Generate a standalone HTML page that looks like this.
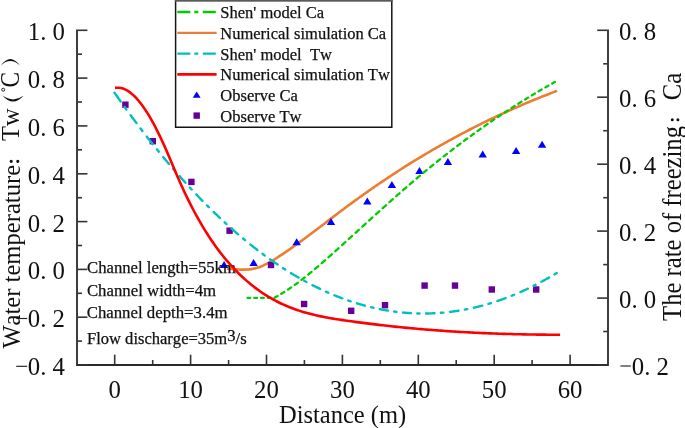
<!DOCTYPE html>
<html><head><meta charset="utf-8"><style>
html,body{margin:0;padding:0;background:#fff;}
svg{display:block;will-change:transform;}
text{font-family:"Liberation Serif",serif;fill:#111;font-kerning:none;}
.tk{font-size:24.8px;}
.lg{font-size:16.5px;stroke:#111;stroke-width:0.25px;}
.an{font-size:16.7px;stroke:#111;stroke-width:0.25px;}
.tt{font-size:24.5px;}
</style></head><body>
<svg width="685" height="428" viewBox="0 0 685 428">
<rect width="685" height="428" fill="#fff"/>
<path d="M227.00,268.61 L229.00,268.77 L231.00,268.94 L233.00,269.11 L235.00,269.27 L237.00,269.41 L239.00,269.52 L241.00,269.59 L243.00,269.62 L245.00,269.59 L247.00,269.51 L249.00,269.35 L251.00,269.11 L253.00,268.79 L255.00,268.37 L257.00,267.84 L259.00,267.21 L261.00,266.46 L263.00,265.63 L265.00,264.70 L267.00,263.69 L269.00,262.61 L271.00,261.47 L273.00,260.28 L275.00,259.04 L277.00,257.76 L279.00,256.46 L281.00,255.14 L283.00,253.81 L285.00,252.45 L287.00,251.09 L289.00,249.70 L291.00,248.31 L293.00,246.90 L295.00,245.48 L297.00,244.05 L299.00,242.60 L301.00,241.15 L303.00,239.69 L305.00,238.21 L307.00,236.73 L309.00,235.25 L311.00,233.75 L313.00,232.25 L315.00,230.75 L317.00,229.24 L319.00,227.73 L321.00,226.21 L323.00,224.69 L325.00,223.17 L327.00,221.65 L329.00,220.13 L331.00,218.61 L333.00,217.09 L335.00,215.58 L337.00,214.06 L339.00,212.55 L341.00,211.04 L343.00,209.54 L345.00,208.05 L347.00,206.55 L349.00,205.07 L351.00,203.60 L353.00,202.13 L355.00,200.67 L357.00,199.22 L359.00,197.77 L361.00,196.34 L363.00,194.91 L365.00,193.49 L367.00,192.07 L369.00,190.67 L371.00,189.27 L373.00,187.88 L375.00,186.50 L377.00,185.13 L379.00,183.76 L381.00,182.40 L383.00,181.05 L385.00,179.71 L387.00,178.38 L389.00,177.05 L391.00,175.73 L393.00,174.42 L395.00,173.11 L397.00,171.81 L399.00,170.53 L401.00,169.24 L403.00,167.97 L405.00,166.70 L407.00,165.44 L409.00,164.19 L411.00,162.95 L413.00,161.71 L415.00,160.48 L417.00,159.26 L419.00,158.04 L421.00,156.83 L423.00,155.63 L425.00,154.44 L427.00,153.25 L429.00,152.08 L431.00,150.90 L433.00,149.74 L435.00,148.58 L437.00,147.43 L439.00,146.29 L441.00,145.15 L443.00,144.03 L445.00,142.91 L447.00,141.79 L449.00,140.68 L451.00,139.58 L453.00,138.49 L455.00,137.41 L457.00,136.33 L459.00,135.25 L461.00,134.19 L463.00,133.13 L465.00,132.08 L467.00,131.04 L469.00,130.00 L471.00,128.97 L473.00,127.94 L475.00,126.93 L477.00,125.92 L479.00,124.91 L481.00,123.92 L483.00,122.93 L485.00,121.95 L487.00,120.97 L489.00,120.00 L491.00,119.04 L493.00,118.08 L495.00,117.13 L497.00,116.19 L499.00,115.25 L501.00,114.32 L503.00,113.40 L505.00,112.48 L507.00,111.57 L509.00,110.67 L511.00,109.77 L513.00,108.88 L515.00,107.99 L517.00,107.12 L519.00,106.25 L521.00,105.38 L523.00,104.52 L525.00,103.67 L527.00,102.82 L529.00,101.98 L531.00,101.15 L533.00,100.32 L535.00,99.50 L537.00,98.69 L539.00,97.88 L541.00,97.08 L543.00,96.28 L545.00,95.49 L547.00,94.71 L549.00,93.93 L551.00,93.16 L553.00,92.39 L555.00,91.63 L557.00,90.88 L557.10,90.84" stroke="#ed7d31" stroke-width="2.6" fill="none"/>
<rect x="122.2" y="101.5" width="6.4" height="6.4" fill="#660099"/>
<rect x="149.6" y="138.0" width="6.4" height="6.4" fill="#660099"/>
<rect x="188.2" y="178.7" width="6.4" height="6.4" fill="#660099"/>
<rect x="226.4" y="227.5" width="6.4" height="6.4" fill="#660099"/>
<rect x="267.8" y="261.8" width="6.4" height="6.4" fill="#660099"/>
<rect x="300.9" y="300.8" width="6.4" height="6.4" fill="#660099"/>
<rect x="348.0" y="307.6" width="6.4" height="6.4" fill="#660099"/>
<rect x="381.8" y="302.0" width="6.4" height="6.4" fill="#660099"/>
<rect x="421.4" y="282.4" width="6.4" height="6.4" fill="#660099"/>
<rect x="451.8" y="282.4" width="6.4" height="6.4" fill="#660099"/>
<rect x="488.6" y="286.3" width="6.4" height="6.4" fill="#660099"/>
<rect x="533.0" y="286.3" width="6.4" height="6.4" fill="#660099"/>
<path d="M224.1,261.0 L228.3,268.0 L219.9,268.0 Z" fill="#0000ff"/>
<path d="M253.6,258.9 L257.8,265.9 L249.4,265.9 Z" fill="#0000ff"/>
<path d="M296.7,238.2 L300.9,245.2 L292.5,245.2 Z" fill="#0000ff"/>
<path d="M331.0,217.9 L335.2,224.9 L326.8,224.9 Z" fill="#0000ff"/>
<path d="M367.3,197.5 L371.5,204.5 L363.1,204.5 Z" fill="#0000ff"/>
<path d="M391.9,181.1 L396.1,188.1 L387.7,188.1 Z" fill="#0000ff"/>
<path d="M419.5,167.1 L423.7,174.1 L415.3,174.1 Z" fill="#0000ff"/>
<path d="M447.9,158.1 L452.1,165.1 L443.7,165.1 Z" fill="#0000ff"/>
<path d="M482.7,150.5 L486.9,157.5 L478.5,157.5 Z" fill="#0000ff"/>
<path d="M516.1,146.9 L520.3,153.9 L511.9,153.9 Z" fill="#0000ff"/>
<path d="M542.1,140.8 L546.3,147.8 L537.9,147.8 Z" fill="#0000ff"/>
<path d="M247.55,297.90 L247.70,297.90 L248.20,297.90 L248.70,297.90 L249.20,297.90 L249.70,297.90 L250.20,297.90 L250.25,297.90 M254.32,297.90 L254.70,297.90 L255.20,297.90 L255.70,297.90 L256.20,297.90 L256.70,297.90 L257.02,297.90 M261.10,297.90 L261.20,297.90 L261.70,297.90 L262.20,297.90 L262.70,297.90 L263.20,297.90 L263.70,297.90 L263.80,297.90 M267.87,297.90 L268.20,297.90 L268.70,297.90 L269.20,297.90 L269.70,297.90 L270.20,297.90 L270.57,297.90 M274.50,297.68 L274.90,297.47 L275.40,297.20 L275.90,296.92 L276.40,296.65 L276.90,296.37 L277.40,296.09 L277.48,296.04 M281.24,293.85 L281.40,293.76 L281.90,293.45 L282.40,293.15 L282.90,292.84 L283.40,292.53 L283.90,292.22 L284.29,291.98 M287.99,289.58 L288.40,289.30 L288.90,288.97 L289.40,288.63 L289.90,288.29 L290.40,287.95 L290.90,287.61 L291.09,287.48 M294.74,284.90 L294.90,284.79 L295.40,284.42 L295.90,284.06 L296.40,283.70 L296.90,283.33 L297.40,282.96 L297.88,282.60 M301.49,279.88 L301.90,279.56 L302.40,279.18 L302.90,278.79 L303.40,278.40 L303.90,278.01 L304.40,277.61 L304.68,277.40 M308.25,274.55 L308.40,274.42 L308.90,274.02 L309.40,273.61 L309.90,273.20 L310.40,272.79 L310.90,272.38 L311.40,271.97 L311.47,271.92 M315.01,268.96 L315.40,268.63 L315.90,268.21 L316.40,267.79 L316.90,267.36 L317.40,266.93 L317.90,266.51 L318.25,266.21 M321.77,263.17 L321.90,263.06 L322.40,262.63 L322.90,262.19 L323.40,261.75 L323.90,261.32 L324.40,260.88 L324.90,260.44 L325.04,260.32 M328.53,257.23 L328.90,256.91 L329.40,256.46 L329.90,256.02 L330.40,255.57 L330.90,255.13 L331.40,254.68 L331.82,254.31 M335.30,251.18 L335.40,251.09 L335.90,250.64 L336.40,250.19 L336.90,249.74 L337.40,249.29 L337.90,248.84 L338.40,248.39 L338.59,248.22 M342.07,245.07 L342.40,244.78 L342.90,244.33 L343.40,243.87 L343.90,243.42 L344.40,242.97 L344.90,242.51 L345.37,242.09 M348.85,238.93 L348.90,238.88 L349.40,238.43 L349.90,237.98 L350.40,237.52 L350.90,237.07 L351.40,236.61 L351.90,236.16 L352.14,235.94 M355.62,232.77 L355.90,232.52 L356.40,232.06 L356.90,231.61 L357.40,231.15 L357.90,230.70 L358.40,230.24 L358.90,229.79 L358.92,229.77 M362.39,226.61 L362.40,226.60 L362.90,226.15 L363.40,225.69 L363.90,225.24 L364.40,224.78 L364.90,224.33 L365.40,223.87 L365.69,223.61 M369.17,220.45 L369.40,220.24 L369.90,219.78 L370.40,219.33 L370.90,218.87 L371.40,218.42 L371.90,217.97 L372.40,217.51 L372.46,217.46 M375.94,214.31 L376.40,213.89 L376.90,213.44 L377.40,212.99 L377.90,212.53 L378.40,212.08 L378.90,211.63 L379.23,211.33 M382.72,208.19 L382.90,208.03 L383.40,207.58 L383.90,207.13 L384.40,206.68 L384.90,206.23 L385.40,205.78 L385.90,205.33 L386.00,205.24 M389.49,202.12 L389.90,201.76 L390.40,201.31 L390.90,200.87 L391.40,200.42 L391.90,199.98 L392.40,199.53 L392.77,199.20 M396.27,196.11 L396.40,195.99 L396.90,195.55 L397.40,195.11 L397.90,194.67 L398.40,194.23 L398.90,193.79 L399.40,193.35 L399.54,193.22 M403.05,190.16 L403.40,189.85 L403.90,189.41 L404.40,188.98 L404.90,188.54 L405.40,188.11 L405.90,187.67 L406.31,187.32 M409.83,184.28 L409.90,184.22 L410.40,183.79 L410.90,183.36 L411.40,182.93 L411.90,182.51 L412.40,182.08 L412.90,181.65 L413.08,181.50 M416.60,178.50 L416.90,178.25 L417.40,177.83 L417.90,177.41 L418.40,176.99 L418.90,176.57 L419.40,176.15 L419.85,175.78 M423.38,172.82 L423.40,172.81 L423.90,172.40 L424.40,171.98 L424.90,171.57 L425.40,171.16 L425.90,170.74 L426.40,170.33 L426.61,170.16 M430.16,167.25 L430.40,167.05 L430.90,166.65 L431.40,166.24 L431.90,165.84 L432.40,165.43 L432.90,165.03 L433.38,164.64 M436.94,161.77 L437.40,161.41 L437.90,161.01 L438.40,160.61 L438.90,160.21 L439.40,159.81 L439.90,159.41 L440.14,159.22 M443.72,156.40 L443.90,156.26 L444.40,155.86 L444.90,155.47 L445.40,155.08 L445.90,154.69 L446.40,154.30 L446.90,153.91 L446.91,153.90 M450.50,151.12 L450.90,150.81 L451.40,150.43 L451.90,150.05 L452.40,149.66 L452.90,149.28 L453.40,148.90 L453.68,148.68 M457.28,145.94 L457.40,145.85 L457.90,145.48 L458.40,145.10 L458.90,144.72 L459.40,144.35 L459.90,143.97 L460.40,143.60 L460.44,143.56 M464.06,140.87 L464.40,140.62 L464.90,140.24 L465.40,139.88 L465.90,139.51 L466.40,139.14 L466.90,138.77 L467.21,138.54 M470.84,135.89 L470.90,135.84 L471.40,135.48 L471.90,135.12 L472.40,134.75 L472.90,134.39 L473.40,134.03 L473.90,133.67 L473.98,133.62 M477.62,131.00 L477.90,130.80 L478.40,130.45 L478.90,130.09 L479.40,129.74 L479.90,129.38 L480.40,129.03 L480.74,128.79 M484.40,126.22 L484.40,126.22 L484.90,125.87 L485.40,125.52 L485.90,125.17 L486.40,124.82 L486.90,124.48 L487.40,124.13 L487.51,124.05 M491.18,121.53 L491.40,121.38 L491.90,121.03 L492.40,120.69 L492.90,120.35 L493.40,120.01 L493.90,119.67 L494.28,119.41 M497.96,116.93 L498.40,116.64 L498.90,116.30 L499.40,115.97 L499.90,115.63 L500.40,115.30 L500.90,114.97 L501.04,114.87 M504.74,112.43 L504.90,112.32 L505.40,112.00 L505.90,111.67 L506.40,111.34 L506.90,111.01 L507.40,110.69 L507.81,110.42 M511.52,108.02 L511.90,107.78 L512.40,107.46 L512.90,107.13 L513.40,106.81 L513.90,106.50 L514.40,106.18 L514.58,106.06 M518.29,103.71 L518.40,103.64 L518.90,103.33 L519.40,103.01 L519.90,102.70 L520.40,102.39 L520.90,102.08 L521.35,101.80 M525.07,99.49 L525.40,99.29 L525.90,98.98 L526.40,98.67 L526.90,98.36 L527.40,98.06 L527.90,97.75 L528.11,97.62 M531.85,95.36 L531.90,95.33 L532.40,95.03 L532.90,94.73 L533.40,94.43 L533.90,94.13 L534.40,93.83 L534.88,93.54 M538.63,91.32 L538.90,91.16 L539.40,90.86 L539.90,90.57 L540.40,90.28 L540.90,89.98 L541.40,89.69 L541.65,89.55 M545.41,87.37 L545.90,87.08 L546.40,86.80 L546.90,86.51 L547.40,86.22 L547.90,85.94 L548.40,85.65 L548.41,85.65 M552.19,83.51 L552.40,83.39 L552.90,83.11 L553.40,82.83 L553.90,82.55 L554.40,82.27 L554.90,81.99" stroke="#00cc00" stroke-width="2.3" fill="none" stroke-linecap="round"/>
<path d="M114.50,92.70 L115.00,93.42 L115.50,94.13 L116.00,94.85 L116.50,95.56 L117.00,96.28 L117.50,96.99 L118.00,97.70 L118.50,98.41 L119.00,99.11 L119.50,99.82 L120.00,100.53 L120.50,101.23 L120.63,101.41 M124.60,106.96 L125.00,107.52 L125.50,108.21 L126.00,108.90 L126.40,109.45 M130.62,115.24 L131.00,115.75 L131.50,116.43 L132.00,117.11 L132.50,117.78 L133.00,118.46 L133.50,119.13 L134.00,119.80 L134.50,120.48 L135.00,121.15 L135.50,121.81 L136.00,122.48 L136.46,123.10 M140.56,128.52 L141.00,129.10 L141.50,129.75 L142.00,130.40 L142.41,130.94 M146.78,136.59 L147.00,136.88 L147.50,137.52 L148.00,138.16 L148.50,138.80 L149.00,139.43 L149.50,140.07 L150.00,140.71 L150.50,141.34 L151.00,141.97 L151.50,142.60 L152.00,143.23 L152.50,143.86 L152.70,144.11 M156.90,149.35 L157.00,149.47 L157.50,150.09 L158.00,150.71 L158.50,151.32 L158.76,151.63 M163.23,157.09 L163.50,157.41 L164.00,158.01 L164.50,158.61 L165.00,159.21 L165.50,159.81 L166.00,160.41 L166.50,161.00 L167.00,161.60 L167.50,162.19 L168.00,162.78 L168.50,163.38 L169.00,163.97 L169.03,164.00 M173.27,168.96 L173.50,169.23 L174.00,169.81 L174.50,170.38 L175.00,170.96 L175.03,171.00 M179.54,176.14 L180.00,176.66 L180.50,177.22 L181.00,177.78 L181.50,178.34 L182.00,178.90 L182.50,179.46 L183.00,180.02 L183.50,180.58 L184.00,181.13 L184.50,181.69 L185.00,182.24 L185.50,182.79 L185.50,182.79 M189.88,187.58 L190.00,187.71 L190.50,188.25 L191.00,188.78 L191.50,189.32 L191.68,189.52 M196.34,194.47 L196.50,194.63 L197.00,195.16 L197.50,195.68 L198.00,196.21 L198.50,196.73 L199.00,197.25 L199.50,197.77 L200.00,198.28 L200.50,198.80 L201.00,199.32 L201.50,199.83 L202.00,200.34 L202.47,200.82 M206.99,205.40 L207.00,205.41 L207.50,205.91 L208.00,206.41 L208.50,206.91 L208.83,207.24 M213.65,211.97 L214.00,212.31 L214.50,212.79 L215.00,213.28 L215.50,213.76 L216.00,214.24 L216.50,214.72 L217.00,215.20 L217.50,215.67 L218.00,216.15 L218.50,216.62 L219.00,217.10 L219.50,217.57 L219.95,217.99 M224.63,222.35 L225.00,222.69 L225.50,223.15 L226.00,223.60 L226.50,224.06 L226.51,224.07 M231.50,228.55 L231.50,228.55 L232.00,229.00 L232.50,229.44 L233.00,229.88 L233.50,230.32 L234.00,230.76 L234.50,231.20 L235.00,231.63 L235.50,232.07 L236.00,232.50 L236.50,232.93 L237.00,233.36 L237.50,233.80 L238.00,234.22 L238.14,234.34 M243.05,238.49 L243.50,238.87 L244.00,239.28 L244.50,239.70 L245.00,240.11 L245.04,240.14 M250.28,244.40 L250.50,244.58 L251.00,244.97 L251.50,245.37 L252.00,245.77 L252.50,246.16 L253.00,246.56 L253.50,246.95 L254.00,247.34 L254.50,247.73 L255.00,248.12 L255.50,248.51 L256.00,248.90 L256.50,249.29 L257.00,249.67 L257.33,249.92 M262.51,253.83 L263.00,254.20 L263.50,254.57 L264.00,254.94 L264.50,255.30 L264.64,255.41 M270.16,259.39 L270.50,259.62 L271.00,259.98 L271.50,260.33 L272.00,260.68 L272.50,261.03 L273.00,261.37 L273.50,261.72 L274.00,262.07 L274.50,262.41 L275.00,262.75 L275.50,263.10 L276.00,263.44 L276.50,263.78 L277.00,264.11 L277.50,264.45 L277.55,264.49 M282.97,268.07 L283.00,268.09 L283.50,268.41 L284.00,268.73 L284.50,269.05 L285.00,269.37 L285.21,269.50 M290.98,273.11 L291.00,273.12 L291.50,273.43 L292.00,273.73 L292.50,274.03 L293.00,274.33 L293.50,274.63 L294.00,274.93 L294.50,275.23 L295.00,275.53 L295.50,275.82 L296.00,276.12 L296.50,276.41 L297.00,276.70 L297.50,276.99 L298.00,277.28 L298.50,277.57 L298.56,277.61 M304.17,280.76 L304.50,280.94 L305.00,281.22 L305.50,281.49 L306.00,281.76 L306.44,282.00 M312.41,285.14 L312.50,285.18 L313.00,285.44 L313.50,285.69 L314.00,285.94 L314.50,286.20 L315.00,286.45 L315.50,286.69 L316.00,286.94 L316.50,287.19 L317.00,287.44 L317.50,287.68 L318.00,287.92 L318.50,288.17 L319.00,288.41 L319.50,288.65 L320.00,288.89 L320.17,288.97 M325.96,291.64 L326.00,291.66 L326.50,291.89 L327.00,292.11 L327.50,292.33 L328.00,292.55 L328.26,292.66 M334.41,295.27 L334.50,295.31 L335.00,295.51 L335.50,295.72 L336.00,295.92 L336.50,296.12 L337.00,296.32 L337.50,296.52 L338.00,296.71 L338.50,296.91 L339.00,297.11 L339.50,297.30 L340.00,297.49 L340.50,297.68 L341.00,297.87 L341.50,298.06 L342.00,298.25 L342.33,298.37 M348.28,300.51 L348.50,300.59 L349.00,300.76 L349.50,300.93 L350.00,301.10 L350.50,301.27 L350.60,301.30 M356.91,303.33 L357.00,303.35 L357.50,303.51 L358.00,303.66 L358.50,303.81 L359.00,303.96 L359.50,304.10 L360.00,304.25 L360.50,304.40 L361.00,304.54 L361.50,304.68 L362.00,304.83 L362.50,304.97 L363.00,305.11 L363.50,305.24 L364.00,305.38 L364.50,305.52 L364.96,305.64 M371.04,307.19 L371.50,307.30 L372.00,307.42 L372.50,307.54 L373.00,307.66 L373.38,307.74 M379.81,309.13 L380.00,309.17 L380.50,309.27 L381.00,309.36 L381.50,309.46 L382.00,309.56 L382.50,309.65 L383.00,309.74 L383.50,309.84 L384.00,309.93 L384.50,310.02 L385.00,310.11 L385.50,310.20 L386.00,310.28 L386.50,310.37 L387.00,310.45 L387.50,310.54 L387.95,310.61 M394.13,311.53 L394.50,311.58 L395.00,311.65 L395.50,311.71 L396.00,311.77 L396.48,311.83 M402.99,312.54 L403.00,312.54 L403.50,312.59 L404.00,312.64 L404.50,312.68 L405.00,312.72 L405.50,312.77 L406.00,312.81 L406.50,312.85 L407.00,312.88 L407.50,312.92 L408.00,312.96 L408.50,312.99 L409.00,313.03 L409.50,313.06 L410.00,313.09 L410.50,313.12 L411.00,313.15 L411.05,313.15 M417.23,313.42 L417.50,313.43 L418.00,313.44 L418.50,313.45 L419.00,313.46 L419.50,313.47 L419.51,313.47 M426.00,313.49 L426.00,313.49 L426.50,313.49 L427.00,313.48 L427.50,313.47 L428.00,313.46 L428.50,313.45 L429.00,313.44 L429.50,313.43 L430.00,313.41 L430.50,313.40 L431.00,313.38 L431.50,313.36 L432.00,313.34 L432.50,313.32 L433.00,313.30 L433.50,313.28 L434.00,313.26 L434.50,313.23 L434.54,313.23 M440.89,312.82 L441.00,312.81 L441.50,312.77 L442.00,312.73 L442.50,312.68 L443.00,312.64 L443.38,312.60 M450.02,311.90 L450.50,311.84 L451.00,311.78 L451.50,311.71 L452.00,311.65 L452.50,311.58 L453.00,311.52 L453.50,311.45 L454.00,311.38 L454.50,311.31 L455.00,311.24 L455.50,311.17 L456.00,311.09 L456.50,311.02 L457.00,310.94 L457.50,310.86 L458.00,310.79 L458.50,310.71 L458.53,310.70 M464.82,309.60 L465.00,309.57 L465.50,309.47 L466.00,309.38 L466.50,309.28 L467.00,309.18 L467.30,309.12 M473.86,307.71 L474.00,307.68 L474.50,307.56 L475.00,307.44 L475.50,307.32 L476.00,307.21 L476.50,307.08 L477.00,306.96 L477.50,306.84 L478.00,306.72 L478.50,306.59 L479.00,306.46 L479.50,306.34 L480.00,306.21 L480.50,306.08 L481.00,305.95 L481.50,305.82 L482.00,305.68 L482.28,305.61 M488.46,303.86 L488.50,303.85 L489.00,303.70 L489.50,303.55 L490.00,303.40 L490.50,303.25 L490.93,303.11 M497.36,301.04 L497.50,300.99 L498.00,300.82 L498.50,300.65 L499.00,300.48 L499.50,300.31 L500.00,300.13 L500.50,299.96 L501.00,299.78 L501.50,299.60 L502.00,299.43 L502.50,299.25 L503.00,299.07 L503.50,298.88 L504.00,298.70 L504.50,298.52 L505.00,298.33 L505.50,298.14 L505.65,298.09 M511.68,295.74 L512.00,295.61 L512.50,295.41 L513.00,295.21 L513.50,295.00 L514.00,294.80 L514.13,294.74 M520.39,292.07 L520.50,292.02 L521.00,291.80 L521.50,291.57 L522.00,291.35 L522.50,291.12 L523.00,290.90 L523.50,290.67 L524.00,290.44 L524.50,290.21 L525.00,289.98 L525.50,289.75 L526.00,289.52 L526.50,289.28 L527.00,289.05 L527.50,288.81 L527.85,288.64 M533.47,285.90 L533.50,285.88 L534.00,285.63 L534.50,285.38 L535.00,285.12 L535.50,284.87 L535.59,284.82 M541.41,281.77 L541.50,281.72 L542.00,281.46 L542.50,281.18 L543.00,280.91 L543.50,280.64 L544.00,280.37 L544.50,280.09 L545.00,279.81 L545.50,279.54 L546.00,279.26 L546.50,278.98 L547.00,278.70 L547.50,278.42 L548.00,278.13 L548.50,277.85 L548.93,277.60 M554.46,274.38 L554.50,274.35 L555.00,274.05 L555.50,273.75 L556.00,273.45 L556.50,273.15 L556.70,273.03" stroke="#00bfbf" stroke-width="2.4" fill="none" stroke-linecap="round"/>
<text x="87" y="272.8" class="an">Channel length=55km</text>
<text x="86.9" y="296.1" class="an" style="font-size:16.8px">Channel width=4m</text>
<text x="86.7" y="318.0" class="an" style="font-size:16.8px">Channel depth=3.4m</text>
<text x="87.0" y="344.1" class="an"><tspan style="font-size:16.55px">Flow discharge=35m</tspan><tspan dy="-3.5">3</tspan><tspan dy="3.5">/s</tspan></text>
<path d="M115.00,87.89 L117.00,87.69 L119.00,87.74 L121.00,88.05 L123.00,88.60 L125.00,89.40 L127.00,90.43 L129.00,91.69 L131.00,93.17 L133.00,94.88 L135.00,96.79 L137.00,98.92 L139.00,101.24 L141.00,103.76 L143.00,106.47 L145.00,109.36 L147.00,112.44 L149.00,115.68 L151.00,119.09 L153.00,122.67 L155.00,126.40 L157.00,130.29 L159.00,134.33 L161.00,138.52 L163.00,142.84 L165.00,147.30 L167.00,151.88 L169.00,156.54 L171.00,161.26 L173.00,166.00 L175.00,170.73 L177.00,175.41 L179.00,180.02 L181.00,184.52 L183.00,188.91 L185.00,193.19 L187.00,197.36 L189.00,201.43 L191.00,205.39 L193.00,209.25 L195.00,213.01 L197.00,216.67 L199.00,220.23 L201.00,223.70 L203.00,227.07 L205.00,230.35 L207.00,233.54 L209.00,236.64 L211.00,239.66 L213.00,242.59 L215.00,245.44 L217.00,248.20 L219.00,250.89 L221.00,253.50 L223.00,256.03 L225.00,258.49 L227.00,260.88 L229.00,263.19 L231.00,265.44 L233.00,267.62 L235.00,269.73 L237.00,271.78 L239.00,273.77 L241.00,275.69 L243.00,277.56 L245.00,279.38 L247.00,281.13 L249.00,282.83 L251.00,284.48 L253.00,286.08 L255.00,287.62 L257.00,289.11 L259.00,290.56 L261.00,291.95 L263.00,293.30 L265.00,294.60 L267.00,295.86 L269.00,297.07 L271.00,298.24 L273.00,299.37 L275.00,300.45 L277.00,301.50 L279.00,302.50 L281.00,303.47 L283.00,304.40 L285.00,305.29 L287.00,306.15 L289.00,306.98 L291.00,307.77 L293.00,308.53 L295.00,309.26 L297.00,309.96 L299.00,310.63 L301.00,311.27 L303.00,311.89 L305.00,312.48 L307.00,313.04 L309.00,313.58 L311.00,314.10 L313.00,314.60 L315.00,315.08 L317.00,315.53 L319.00,315.97 L321.00,316.39 L323.00,316.80 L325.00,317.19 L327.00,317.56 L329.00,317.92 L331.00,318.27 L333.00,318.61 L335.00,318.93 L337.00,319.25 L339.00,319.56 L341.00,319.86 L343.00,320.16 L345.00,320.45 L347.00,320.73 L349.00,321.01 L351.00,321.29 L353.00,321.57 L355.00,321.84 L357.00,322.11 L359.00,322.38 L361.00,322.64 L363.00,322.90 L365.00,323.16 L367.00,323.41 L369.00,323.66 L371.00,323.91 L373.00,324.15 L375.00,324.40 L377.00,324.63 L379.00,324.87 L381.00,325.10 L383.00,325.33 L385.00,325.55 L387.00,325.78 L389.00,326.00 L391.00,326.21 L393.00,326.43 L395.00,326.64 L397.00,326.84 L399.00,327.05 L401.00,327.25 L403.00,327.45 L405.00,327.64 L407.00,327.84 L409.00,328.02 L411.00,328.21 L413.00,328.39 L415.00,328.58 L417.00,328.75 L419.00,328.93 L421.00,329.10 L423.00,329.27 L425.00,329.44 L427.00,329.60 L429.00,329.76 L431.00,329.92 L433.00,330.07 L435.00,330.23 L437.00,330.38 L439.00,330.52 L441.00,330.67 L443.00,330.81 L445.00,330.95 L447.00,331.08 L449.00,331.22 L451.00,331.35 L453.00,331.47 L455.00,331.60 L457.00,331.72 L459.00,331.84 L461.00,331.96 L463.00,332.07 L465.00,332.19 L467.00,332.30 L469.00,332.40 L471.00,332.51 L473.00,332.61 L475.00,332.71 L477.00,332.80 L479.00,332.90 L481.00,332.99 L483.00,333.08 L485.00,333.17 L487.00,333.25 L489.00,333.33 L491.00,333.41 L493.00,333.49 L495.00,333.56 L497.00,333.63 L499.00,333.70 L501.00,333.77 L503.00,333.84 L505.00,333.90 L507.00,333.96 L509.00,334.02 L511.00,334.07 L513.00,334.12 L515.00,334.18 L517.00,334.22 L519.00,334.27 L521.00,334.31 L523.00,334.36 L525.00,334.39 L527.00,334.43 L529.00,334.47 L531.00,334.50 L533.00,334.53 L535.00,334.56 L537.00,334.58 L539.00,334.61 L541.00,334.63 L543.00,334.65 L545.00,334.67 L547.00,334.68 L549.00,334.70 L551.00,334.71 L553.00,334.72 L555.00,334.72 L557.00,334.73 L559.00,334.73 L560.10,334.73" stroke="#ff0000" stroke-width="2.6" fill="none"/>
<g stroke="#333333" stroke-width="1.6" fill="none">
<path d="M77.0,29.5 V365.0 H608.0 V29.5" stroke="#2a2a2a" stroke-width="1.8" fill="none" stroke-linejoin="miter"/>
<line x1="77.9" y1="30.3" x2="87.4" y2="30.3"/>
<line x1="77.9" y1="54.2" x2="82.0" y2="54.2"/>
<line x1="77.9" y1="78.1" x2="87.4" y2="78.1"/>
<line x1="77.9" y1="102.0" x2="82.0" y2="102.0"/>
<line x1="77.9" y1="125.9" x2="87.4" y2="125.9"/>
<line x1="77.9" y1="149.8" x2="82.0" y2="149.8"/>
<line x1="77.9" y1="173.8" x2="87.4" y2="173.8"/>
<line x1="77.9" y1="197.7" x2="82.0" y2="197.7"/>
<line x1="77.9" y1="221.6" x2="87.4" y2="221.6"/>
<line x1="77.9" y1="245.5" x2="82.0" y2="245.5"/>
<line x1="77.9" y1="269.4" x2="87.4" y2="269.4"/>
<line x1="77.9" y1="293.3" x2="82.0" y2="293.3"/>
<line x1="77.9" y1="317.2" x2="87.4" y2="317.2"/>
<line x1="77.9" y1="341.1" x2="82.0" y2="341.1"/>
<line x1="77.9" y1="365.0" x2="87.4" y2="365.0"/>
<line x1="607.1" y1="30.3" x2="597.2" y2="30.3"/>
<line x1="607.1" y1="63.8" x2="603.2" y2="63.8"/>
<line x1="607.1" y1="97.2" x2="597.2" y2="97.2"/>
<line x1="607.1" y1="130.7" x2="603.2" y2="130.7"/>
<line x1="607.1" y1="164.2" x2="597.2" y2="164.2"/>
<line x1="607.1" y1="197.7" x2="603.2" y2="197.7"/>
<line x1="607.1" y1="231.1" x2="597.2" y2="231.1"/>
<line x1="607.1" y1="264.6" x2="603.2" y2="264.6"/>
<line x1="607.1" y1="298.1" x2="597.2" y2="298.1"/>
<line x1="607.1" y1="331.5" x2="603.2" y2="331.5"/>
<line x1="607.1" y1="365.0" x2="597.2" y2="365.0"/>
<line x1="114.7" y1="364.1" x2="114.7" y2="354.7"/>
<line x1="152.7" y1="364.1" x2="152.7" y2="360.0"/>
<line x1="190.6" y1="364.1" x2="190.6" y2="354.7"/>
<line x1="228.6" y1="364.1" x2="228.6" y2="360.0"/>
<line x1="266.5" y1="364.1" x2="266.5" y2="354.7"/>
<line x1="304.4" y1="364.1" x2="304.4" y2="360.0"/>
<line x1="342.4" y1="364.1" x2="342.4" y2="354.7"/>
<line x1="380.3" y1="364.1" x2="380.3" y2="360.0"/>
<line x1="418.3" y1="364.1" x2="418.3" y2="354.7"/>
<line x1="456.2" y1="364.1" x2="456.2" y2="360.0"/>
<line x1="494.2" y1="364.1" x2="494.2" y2="354.7"/>
<line x1="532.1" y1="364.1" x2="532.1" y2="360.0"/>
<line x1="570.1" y1="364.1" x2="570.1" y2="354.7"/>
</g>
<rect x="175.6" y="0.7" width="216.2" height="126.6" fill="#fff"/>
<path d="M175.6,0 V127.3 H391.8 V0" fill="none" stroke="#151515" stroke-width="1.5"/>
<rect x="174.85" y="0" width="217.7" height="1.7" fill="#5a5a5a"/>
<line x1="177.3" y1="12.0" x2="216.6" y2="12.0" stroke="#00cc00" stroke-width="2.4" stroke-dasharray="13 4 4 4.5"/>
<text x="220.3" y="18.0" class="lg" xml:space="preserve">Shen' model Ca</text>
<line x1="177.3" y1="32.9" x2="216.6" y2="32.9" stroke="#ed7d31" stroke-width="2.4"/>
<text x="220.3" y="38.9" class="lg" xml:space="preserve">Numerical simulation Ca</text>
<line x1="177.3" y1="53.6" x2="216.6" y2="53.6" stroke="#00bfbf" stroke-width="2.4" stroke-dasharray="13 4 4 4.5"/>
<text x="220.3" y="59.6" class="lg" xml:space="preserve">Shen' model  Tw</text>
<line x1="177.3" y1="74.4" x2="216.6" y2="74.4" stroke="#ff0000" stroke-width="2.6"/>
<text x="220.3" y="80.4" class="lg" xml:space="preserve">Numerical simulation Tw</text>
<path d="M196.7,91.6 L200.6,97.8 L192.8,97.8 Z" fill="#0000ff"/>
<text x="220.3" y="100.7" class="lg">Observe Ca</text>
<rect x="193.5" y="112.4" width="6.4" height="6.4" fill="#660099"/>
<text x="220.3" y="121.6" class="lg">Observe Tw</text>
<text x="65" y="40.2" text-anchor="end" class="tk">1. 0</text>
<text x="65" y="88.0" text-anchor="end" class="tk">0. 8</text>
<text x="65" y="135.8" text-anchor="end" class="tk">0. 6</text>
<text x="65" y="183.7" text-anchor="end" class="tk">0. 4</text>
<text x="65" y="231.5" text-anchor="end" class="tk">0. 2</text>
<text x="65" y="279.3" text-anchor="end" class="tk">0. 0</text>
<text x="65" y="327.1" text-anchor="end" class="tk">0. 2</text>
<line x1="16.2" y1="318.5" x2="27.1" y2="318.5" stroke="#222" stroke-width="1.15"/>
<text x="65" y="374.9" text-anchor="end" class="tk">0. 4</text>
<line x1="16.2" y1="366.3" x2="27.1" y2="366.3" stroke="#222" stroke-width="1.15"/>
<text x="619" y="40.2" class="tk">0. 8</text>
<text x="619" y="107.1" class="tk">0. 6</text>
<text x="619" y="174.1" class="tk">0. 4</text>
<text x="619" y="241.0" class="tk">0. 2</text>
<text x="619" y="308.0" class="tk">0. 0</text>
<line x1="620.4" y1="366.0" x2="630.8" y2="366.0" stroke="#222" stroke-width="1.15"/>
<text x="631.8" y="374.9" class="tk">0. 2</text>
<text x="114.7" y="398.2" text-anchor="middle" class="tk">0</text>
<text x="190.6" y="398.2" text-anchor="middle" class="tk">10</text>
<text x="266.5" y="398.2" text-anchor="middle" class="tk">20</text>
<text x="342.4" y="398.2" text-anchor="middle" class="tk">30</text>
<text x="418.3" y="398.2" text-anchor="middle" class="tk">40</text>
<text x="494.2" y="398.2" text-anchor="middle" class="tk">50</text>
<text x="570.1" y="398.2" text-anchor="middle" class="tk">60</text>
<text x="279" y="422.8" class="tt">Distance (m)</text>
<text transform="translate(19.5,348.6) rotate(-90)" class="tt" style="font-size:24.6px">Water temperature</text>
<path d="M11.2,161.3 m-1.6,0 a1.6,1.6 0 1,0 3.2,0 a1.6,1.6 0 1,0 -3.2,0 M17.8,161.3 m-1.6,0 a1.6,1.6 0 1,0 3.2,0 a1.6,1.6 0 1,0 -3.2,0" fill="#111"/>
<text transform="translate(19.3,141.0) rotate(-90)" class="tt">Tw</text>
<path d="M0.9,65.4 Q10.3,52.4 19.9,65.4 Q10.3,56.8 0.9,65.4 Z" fill="#111"/>
<path d="M2.2,95.3 Q12.9,107.6 23.6,95.8 Q12.9,103.2 2.2,95.3 Z" fill="#111"/>
<circle cx="3.2" cy="89.7" r="1.5" fill="none" stroke="#111" stroke-width="0.9"/>
<text transform="translate(19.2,87.4) rotate(-90) scale(0.86,1)" style="font-size:27px">C</text>
<text transform="translate(680.5,320.9) rotate(-90) scale(0.93,1)" style="font-size:26.5px">The rate of freezing</text>
<path d="M672.3,119.8 m-1.5,0 a1.5,1.5 0 1,0 3,0 a1.5,1.5 0 1,0 -3,0 M677.9,119.8 m-1.5,0 a1.5,1.5 0 1,0 3,0 a1.5,1.5 0 1,0 -3,0" fill="#111"/>
<text transform="translate(680.5,100.3) rotate(-90) scale(0.93,1)" style="font-size:26.5px">Ca</text>
</svg>
</body></html>
